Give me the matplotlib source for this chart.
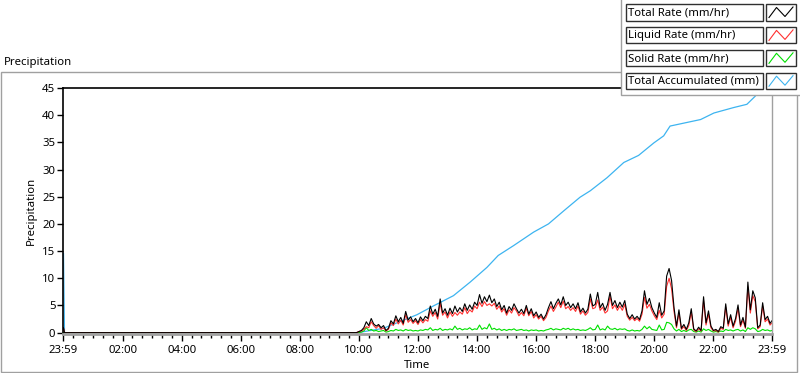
import numpy as np
import matplotlib
matplotlib.use('Agg')
import matplotlib.pyplot as plt
from matplotlib.patches import Rectangle

plt.rcParams['font.family'] = ['Noto Sans', 'DejaVu Sans']
plt.rcParams['font.size'] = 8.2

# ---------- data (minutes after 00:00, 23:59 of the previous day = -1) ----------
series_names = ['Total Rate (mm/hr)', 'Liquid Rate (mm/hr)', 'Solid Rate (mm/hr)', 'Total Accumulated (mm)']
series_colors = ['#000000', '#ff3030', '#00e000', '#3db4f0']

# rates sampled every 5 min from 10:00 to 23:55, then 23:59
rate_times = list(range(600, 1440, 5)) + [1439]
total_rate = [
    0.2, 0.4, 0.9, 2.0, 1.3, 2.6, 1.6, 1.2, 1.5, 0.9, 1.3, 0.4,   # 10h
    0.8, 2.2, 1.6, 3.1, 2.0, 2.8, 1.7, 3.9, 2.3, 2.9, 2.0, 2.6,   # 11h
    1.8, 2.9, 2.2, 3.0, 2.6, 4.9, 3.4, 4.3, 3.0, 6.2, 3.6, 4.4,   # 12h
    3.2, 4.5, 3.5, 4.9, 3.8, 4.6, 3.9, 5.3, 4.1, 5.1, 4.3, 5.6,   # 13h
    5.0, 7.0, 5.4, 6.6, 5.7, 6.9, 5.5, 6.2, 4.8, 5.6, 4.2, 5.0,   # 14h
    3.6, 4.8, 4.1, 5.3, 4.4, 3.6, 4.3, 3.5, 5.0, 3.4, 4.4, 3.1,   # 15h
    3.8, 2.8, 3.4, 2.5, 3.3, 4.6, 5.7, 4.4, 5.4, 6.2, 5.1, 6.6,   # 16h
    5.0, 5.6, 4.6, 5.3, 4.4, 5.5, 3.8, 4.5, 3.6, 4.3, 7.1, 4.9,   # 17h
    5.2, 7.4, 4.6, 5.4, 4.1, 5.2, 7.4, 5.0, 5.9, 4.6, 5.6, 4.7,   # 18h
    5.9, 3.4, 2.6, 3.3, 2.5, 3.0, 2.4, 4.0, 7.7, 5.2, 6.3, 4.6,   # 19h
    3.6, 2.8, 5.5, 3.2, 4.0, 10.4, 11.8, 9.6, 4.6, 1.2, 4.2, 0.8, # 20h
    1.5, 0.6, 1.8, 4.4, 0.7, 0.3, 1.0, 0.4, 6.6, 1.8, 4.0, 1.2,   # 21h
    0.4, 0.6, 0.2, 1.1, 0.8, 5.3, 1.6, 3.3, 1.2, 2.6, 5.1, 1.4,   # 22h
    2.8, 1.0, 9.3, 4.2, 7.7, 6.4, 0.9, 1.4, 5.5, 2.4, 3.0, 1.7, 2.2,  # 23h
]
solid_rate = [
    0.0, 0.1, 0.3, 0.9, 0.4, 0.6, 0.3, 0.4, 0.2, 0.3, 0.4, 0.1,
    0.2, 0.4, 0.3, 0.6, 0.4, 0.5, 0.3, 0.6, 0.4, 0.5, 0.3, 0.4,
    0.3, 0.5, 0.4, 0.6, 0.5, 0.9, 0.4, 0.6, 0.5, 0.8, 0.4, 0.6,
    0.5, 0.7, 0.5, 1.2, 0.6, 0.8, 0.5, 0.7, 0.6, 0.9, 0.5, 0.7,
    0.6, 1.4, 0.6, 0.9, 0.7, 1.6, 0.6, 0.8, 0.5, 0.7, 0.4, 0.6,
    0.4, 0.6, 0.5, 0.7, 0.4, 0.5, 0.6, 0.4, 0.5, 0.3, 0.5, 0.4,
    0.5, 0.3, 0.4, 0.3, 0.5, 0.6, 0.8, 0.5, 0.7, 0.6, 0.5, 0.8,
    0.6, 0.8, 0.5, 0.7, 0.5, 0.6, 0.4, 0.5, 0.4, 0.6, 0.9, 0.5,
    0.6, 1.4, 0.5, 0.7, 0.5, 1.2, 0.7, 0.6, 0.8, 0.5, 0.7, 0.6,
    0.7, 0.4, 0.3, 0.5, 0.3, 0.4, 0.3, 0.6, 1.2, 0.7, 1.1, 0.6,
    0.5, 0.4, 1.4, 0.5, 0.6, 1.9, 1.8, 1.5, 0.7, 0.3, 0.6, 0.2,
    0.4, 0.2, 0.5, 0.6, 0.2, 0.1, 0.3, 0.1, 0.7, 0.4, 0.6, 0.3,
    0.1, 0.2, 0.1, 0.3, 0.2, 0.6, 0.4, 0.5, 0.3, 0.5, 0.6, 0.3,
    0.5, 0.2, 0.9, 0.6, 0.9, 0.7, 0.2, 0.3, 0.6, 0.4, 0.5, 0.3, 0.4,
]
# before the event: leftover reading at 23:59, then nothing until 10:00
pre_times = [-1, 0, 2, 595]
pre_total = [0.9, 0.9, 0.0, 0.0]
pre_solid = [0.0, 0.0, 0.0, 0.0]

acc_times = [-1, 0, 2, 598, 650, 718, 751, 792, 826, 860, 883, 914, 955, 985, 1016,
             1049, 1070, 1104, 1138, 1168, 1199, 1219, 1232, 1294, 1321, 1361, 1388,
             1405, 1416, 1439]
acc_values = [14.6, 14.6, 0.0, 0.0, 0.8, 3.3, 4.9, 6.8, 9.3, 12.0, 14.2, 16.0, 18.5, 20.0, 22.4,
              24.9, 26.1, 28.5, 31.3, 32.6, 34.9, 36.2, 38.0, 39.2, 40.4, 41.4, 42.0,
              43.5, 45.2, 47.5]

major_ticks = [-1] + list(range(120, 1440, 120)) + [1439]
major_labels = ['23:59', '02:00', '04:00', '06:00', '08:00', '10:00', '12:00',
                '14:00', '16:00', '18:00', '20:00', '22:00', '23:59']

# ---------- figure ----------
W, H = 800, 373
fig = plt.figure(figsize=(W / 100, H / 100), dpi=100)
fig.patch.set_facecolor('white')

L, R, T, B = 63, 772, 88, 334
ax = fig.add_axes([L / W, 1 - B / H, (R - L) / W, (B - T) / H])

t = np.array(pre_times + rate_times)
total = np.array(pre_total + total_rate)
solid = np.array(pre_solid + solid_rate)
liquid = np.clip(total - solid, 0, None)

# accumulated underneath, total rate on top (zero line reads black)
ax.plot(acc_times, acc_values, color=series_colors[3], lw=0.9)
ax.plot(t, solid, color=series_colors[2], lw=0.8)
ax.plot(t, liquid, color=series_colors[1], lw=0.8)
ax.plot(t, total, color=series_colors[0], lw=0.8)

ax.set_xlim(-1, 1439)
ax.set_ylim(-0.25, 45)
ax.set_yticks(range(0, 46, 5))
ax.set_xticks(major_ticks)
ax.set_xticklabels(major_labels)
ax.set_xticks([m for m in range(20, 1440, 20) if m % 120 != 0], minor=True)
ax.tick_params(axis='y', length=4, width=1, pad=1.5, color='black')
ax.tick_params(axis='x', which='major', length=5, width=1, pad=3)
ax.tick_params(axis='x', which='minor', length=3, width=1)

for side in ['left', 'top']:
    ax.spines[side].set_color('black')
    ax.spines[side].set_linewidth(1.2)
ax.spines['right'].set_color('#a0a0a0')
ax.spines['right'].set_linewidth(1.0)
ax.spines['bottom'].set_color('#a0a0a0')
ax.spines['bottom'].set_linewidth(2.0)

# ---------- overlay in pixel coordinates: frame, titles, legend ----------
ov = fig.add_axes([0, 0, 1, 1], zorder=10)
ov.set_xlim(0, W)
ov.set_ylim(H, 0)
ov.axis('off')
ov.patch.set_alpha(0)

ov.add_patch(Rectangle((1, 72), 796, 299.5, fill=False, ec='#a0a0a0', lw=1))
ov.text(4, 62, 'Precipitation', ha='left', va='center')
ov.text(31, (T + B) / 2, 'Precipitation', rotation=90, ha='center', va='center')
ov.text((L + R) / 2, 366, 'Time', ha='center', va='center')

ov.add_patch(Rectangle((621, -2), 182, 97, fc='white', ec='#a0a0a0', lw=1))
row_h = 16.5
for i, (name, col) in enumerate(zip(series_names, series_colors)):
    y0 = 4 + i * 22.9
    ov.add_patch(Rectangle((625.5, y0), 137, row_h, fc='white', ec='#303030', lw=1))
    ov.text(628, y0 + row_h / 2 + 0.5, name, ha='left', va='center')
    ov.add_patch(Rectangle((766, y0), 30, row_h, fc='white', ec='#303030', lw=1))
    ov.plot([769, 776.5, 785, 793], [y0 + 13.5, y0 + 3.5, y0 + 12.5, y0 + 3],
            color=col, lw=0.8)

fig.savefig('out.png', dpi=100)
